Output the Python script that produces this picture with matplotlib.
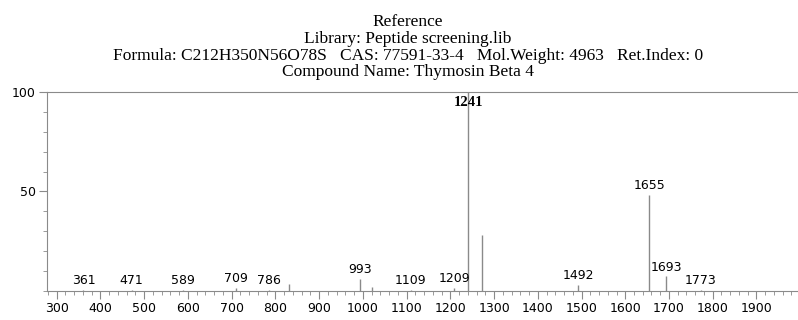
import matplotlib
matplotlib.use("Agg")
import matplotlib.pyplot as plt
from matplotlib.ticker import MultipleLocator, FixedLocator

# --- peak list ---
mz = [361, 471, 589, 709, 786, 832, 993, 1021, 1109, 1209, 1241, 1272, 1492, 1655, 1693, 1773]
intensity = [0.7, 0.7, 0.7, 1.5, 0.7, 3.5, 6.0, 2.0, 0.7, 1.5, 100, 28.0, 3.2, 48.3, 7.3, 0.7]
labelled = [361, 471, 589, 709, 786, 993, 1109, 1209, 1241, 1492, 1655, 1693, 1773]

title_lines = [
    "Reference",
    "Library: Peptide screening.lib",
    "Formula: C212H350N56O78S   CAS: 77591-33-4   Mol.Weight: 4963   Ret.Index: 0",
    "Compound Name: Thymosin Beta 4",
]

grey = "#8a8a8a"

fig = plt.figure(figsize=(7.98, 3.2), dpi=100)
ax = fig.add_axes([0.0585, 0.0906, 0.9415, 0.622])

# stick spectrum
ax.vlines(mz, 0, intensity, color=grey, linewidth=1.0)

for x, y in zip(mz, intensity):
    if x not in labelled:
        continue
    if y >= 99:
        ax.annotate(str(x), (x, y), xytext=(0, -3), textcoords="offset points",
                    ha="center", va="top", fontsize=10.5, family="Liberation Serif",
                    fontweight="bold", color="black")
    else:
        ax.annotate(str(x), (x, y), xytext=(0, 2), textcoords="offset points",
                    ha="center", va="bottom", fontsize=9, family="DejaVu Sans",
                    color="black")

ax.set_xlim(277, 1995)
ax.set_ylim(0, 100)

ax.xaxis.set_major_locator(MultipleLocator(100))
ax.xaxis.set_minor_locator(MultipleLocator(20))
ax.yaxis.set_major_locator(FixedLocator([50, 100]))
ax.yaxis.set_minor_locator(MultipleLocator(10))

ax.tick_params(axis="both", which="major", direction="out", length=6, width=0.8,
               color=grey, labelsize=9, labelcolor="black", pad=2)
ax.tick_params(axis="both", which="minor", direction="out", length=3, width=0.6, color=grey)

for side in ["left", "bottom", "top"]:
    ax.spines[side].set_color(grey)
    ax.spines[side].set_linewidth(0.8)
ax.spines["right"].set_visible(False)

# header block in a Times-like face
y_pos = [22, 39, 56, 72]
for txt, yp in zip(title_lines, y_pos):
    fig.text(0.511, 1 - yp / 320, txt, ha="center", va="center",
             fontsize=12.5, family="Liberation Serif", color="black")

fig.savefig("out.png", dpi=100)
